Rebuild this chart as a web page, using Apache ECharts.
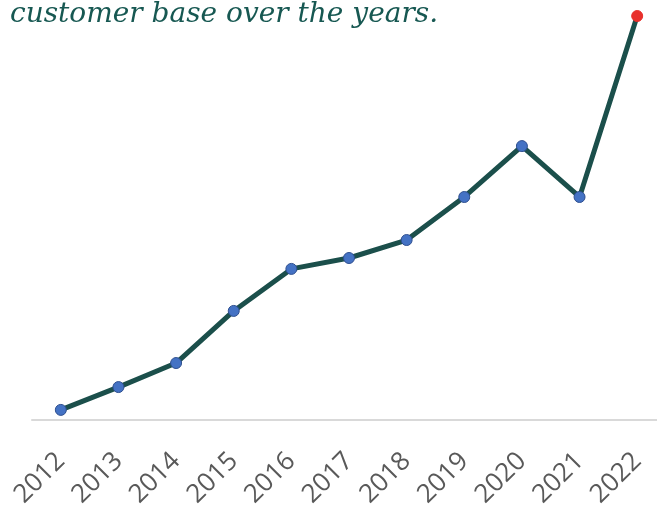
<!DOCTYPE html>
<html>
<head>
    <meta charset="utf-8">
    <title>customer base over the years</title>
    <script src="https://cdn.jsdelivr.net/npm/echarts@6/dist/echarts.min.js"></script>
    <style>
        html, body { margin: 0; padding: 0; background: #fff; overflow: hidden; }
    </style>
</head>
<body>
    <!-- the chart runs a little past the right edge of the window, as in the picture -->
    <div id="main" style="width: 666px;height:512px;"></div>
    <script type="text/javascript">
        // years and customer values (arbitrary units)
        var years = ['2012', '2013', '2014', '2015', '2016', '2017', '2018', '2019', '2020', '2021', '2022'];
        var customers = [5, 16.3, 28.2, 54, 74.8, 80.2, 89.1, 110.4, 135.6, 110.4, 200];

        var myChart = echarts.init(document.getElementById('main'));

        // last point highlighted red
        var seriesData = customers.map(function (v, i) {
            if (i === customers.length - 1) {
                return {
                    value: v,
                    itemStyle: { color: '#e8302c', borderColor: '#e8302c' }
                };
            }
            return v;
        });

        var option = {
            animation: false,
            title: {
                text: 'customer base over the years.',
                left: 5,
                top: -4,
                textStyle: {
                    fontFamily: 'DejaVu Serif',
                    fontStyle: 'italic',
                    fontWeight: 'normal',
                    fontSize: 28,
                    color: '#175852'
                }
            },
            grid: {
                left: 32,
                top: 16,
                right: 0,
                bottom: 92,
                containLabel: false
            },
            xAxis: {
                type: 'category',
                data: years,
                boundaryGap: true,
                axisLine: { lineStyle: { color: '#d9d9d9', width: 2 } },
                axisTick: { show: false },
                axisLabel: {
                    rotate: 45,
                    margin: 37,
                    fontFamily: 'Open Sans',
                    fontSize: 26,
                    color: '#595959'
                }
            },
            yAxis: {
                type: 'value',
                min: 0,
                max: 200,
                show: false,
                splitLine: { show: false }
            },
            series: [{
                type: 'line',
                data: seriesData,
                symbol: 'circle',
                symbolSize: 11,
                lineStyle: { color: '#1b4f4b', width: 5 },
                itemStyle: { color: '#4472c4', borderColor: '#2f4f8f', borderWidth: 1 }
            }]
        };

        myChart.setOption(option);
    </script>
</body>
</html>
